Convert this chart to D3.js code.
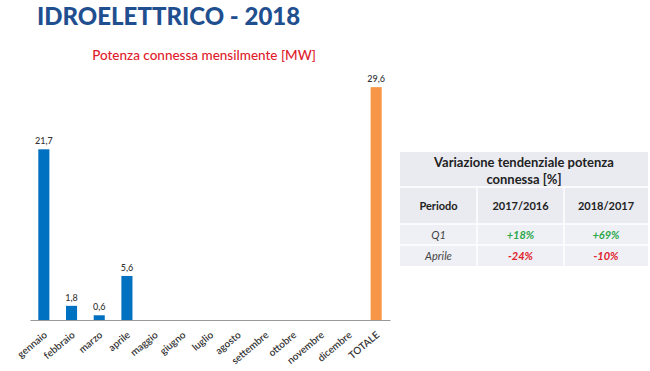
<!DOCTYPE html>
<html>
<head>
<meta charset="utf-8">
<script src="https://cdn.jsdelivr.net/npm/d3@7"></script>
<style>
body { margin: 0; background: #fff; }
svg { font-family: Lato, "Open Sans", sans-serif; }
</style>
</head>
<body>
<svg width="650" height="371"></svg>
<script>
var svg = d3.select("svg");

// dati
var mesi = ["gennaio", "febbraio", "marzo", "aprile", "maggio", "giugno", "luglio",
  "agosto", "settembre", "ottobre", "novembre", "dicembre", "TOTALE"];
var potenza = [21.7, 1.8, 0.6, 5.6, null, null, null, null, null, null, null, null, 29.6];

var tabTitolo = ["Variazione tendenziale potenza", "connessa [%]"];
var tabColonne = ["Periodo", "2017/2016", "2018/2017"];
var tabPeriodi = ["Q1", "Aprile"];
var var1716 = ["+18%", "-24%"];
var var1817 = ["+69%", "-10%"];

// titoli
svg.append("text")
  .attr("x", 37).attr("y", 25)
  .attr("font-size", 24).attr("font-weight", 900)
  .attr("fill", "#1f4f8f")
  .text("IDROELETTRICO - 2018");

svg.append("text")
  .attr("x", 204).attr("y", 60)
  .attr("text-anchor", "middle")
  .attr("font-size", 13.5).attr("font-weight", 500)
  .attr("fill", "#e01b2c")
  .text("Potenza connessa mensilmente [MW]");

// grafico
var x = d3.scaleBand().domain(mesi).range([30, 390]).paddingInner(0.6).paddingOuter(0.3);
var y = d3.scaleLinear().domain([0, 30]).range([320, 84]);

var dati = mesi.map(function(m, i) { return {mese: m, v: potenza[i]}; })
  .filter(function(d) { return d.v != null; });

svg.selectAll(".bar")
  .data(dati)
  .enter().append("rect")
  .attr("class", "bar")
  .attr("x", function(d) { return x(d.mese); })
  .attr("width", x.bandwidth())
  .attr("y", function(d) { return y(d.v); })
  .attr("height", function(d) { return y(0) - y(d.v); })
  .attr("fill", function(d) { return d.mese == "TOTALE" ? "#f79646" : "#0070c0"; });

svg.selectAll(".lbl")
  .data(dati)
  .enter().append("text")
  .attr("class", "lbl")
  .attr("x", function(d) { return x(d.mese) + x.bandwidth() / 2; })
  .attr("y", function(d) { return y(d.v) - 5; })
  .attr("text-anchor", "middle")
  .attr("font-size", 9)
  .attr("font-weight", 500)
  .attr("fill", "#333")
  .text(function(d) { return d3.format(".1f")(d.v).replace(".", ","); });

var asse = svg.append("g")
  .attr("transform", "translate(0," + y(0) + ")")
  .call(d3.axisBottom(x).tickSize(0).tickPadding(0));
asse.select(".domain").attr("stroke", "#999");
asse.selectAll("text")
  .attr("font-family", "Lato, sans-serif")
  .attr("font-size", 10)
  .attr("font-weight", 600)
  .attr("fill", "#333")
  .attr("text-anchor", "end")
  .attr("y", 0)
  .attr("dy", null)
  .attr("transform", "translate(4,16) rotate(-40)");

// tabella
var colX = [400, 477, 564, 648];
var rowY = [152, 187, 224, 245, 266];
var t = svg.append("g");

t.append("rect").attr("x", colX[0]).attr("y", rowY[0])
  .attr("width", colX[3] - colX[0]).attr("height", rowY[4] - rowY[0])
  .attr("fill", "#e9ebf1");
t.append("rect").attr("x", colX[0]).attr("y", rowY[2])
  .attr("width", colX[3] - colX[0]).attr("height", rowY[4] - rowY[2])
  .attr("fill", "#eff0f5");

// linee bianche
[rowY[1], rowY[2], rowY[3]].forEach(function(yy) {
  t.append("line").attr("x1", colX[0]).attr("x2", colX[3]).attr("y1", yy).attr("y2", yy)
    .attr("stroke", "#fff").attr("stroke-width", 1.5);
});
[colX[1], colX[2]].forEach(function(xx) {
  t.append("line").attr("x1", xx).attr("x2", xx).attr("y1", rowY[1]).attr("y2", rowY[4])
    .attr("stroke", "#fff").attr("stroke-width", 1.5);
});

var cx = (colX[0] + colX[3]) / 2;
tabTitolo.forEach(function(s, i) {
  t.append("text").attr("x", cx).attr("y", 167 + i * 17)
    .attr("text-anchor", "middle").attr("font-size", 13).attr("font-weight", "bold")
    .attr("fill", "#222").text(s);
});

tabColonne.forEach(function(s, i) {
  t.append("text").attr("x", (colX[i] + colX[i + 1]) / 2).attr("y", 210)
    .attr("text-anchor", "middle").attr("font-size", 11).attr("font-weight", "bold")
    .attr("fill", "#222").text(s);
});

tabPeriodi.forEach(function(p, r) {
  var yy = (rowY[r + 2] + rowY[r + 3]) / 2 + 4;
  t.append("text").attr("x", (colX[0] + colX[1]) / 2).attr("y", yy)
    .attr("text-anchor", "middle").attr("font-size", 11).attr("font-style", "italic")
    .attr("fill", "#444").text(p);
  [var1716[r], var1817[r]].forEach(function(v, c) {
    t.append("text").attr("x", (colX[c + 1] + colX[c + 2]) / 2).attr("y", yy)
      .attr("text-anchor", "middle").attr("font-size", 11).attr("font-style", "italic")
      .attr("font-weight", "bold")
      .attr("fill", v.charAt(0) == "+" ? "#2aa84a" : "#e0202a").text(v);
  });
});
</script>
</body>
</html>
